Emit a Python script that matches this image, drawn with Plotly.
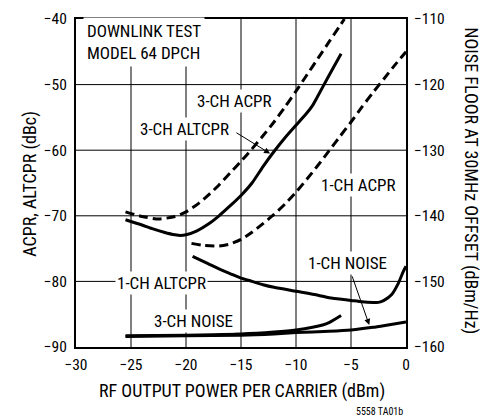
import plotly.graph_objects as go

FONT = "Liberation Sans Narrow, Arial Narrow, Roboto Condensed, Liberation Sans, Arial, sans-serif"

# ---- data ----
acpr3_x = [-25.5, -24, -22.5, -21, -20, -19, -18, -17, -16, -15, -14, -13, -12, -11, -10, -9, -8, -7, -6, -5.6]
acpr3_y = [-69.4, -70.1, -70.5, -70.1, -69.4, -68.3, -66.9, -65.3, -63.5, -61.7, -59.8, -57.8, -55.7, -53.4, -51.0, -48.5, -46.0, -43.5, -41.0, -40.0]

altcpr3_x = [-25.5, -24, -23, -22, -21, -20.5, -20, -19, -18, -17, -16, -15, -14, -13, -12, -11, -10, -9, -8.5, -8, -7, -6, -5.9]
altcpr3_y = [-70.6, -71.4, -72.0, -72.5, -72.9, -73.0, -72.9, -72.3, -71.3, -70.0, -68.5, -66.9, -65.0, -62.5, -60.2, -58.1, -56.2, -54.3, -53.2, -51.7, -48.6, -45.6, -45.3]

acpr1_x = [-19.5, -18.5, -17, -16, -15, -14, -13, -12, -11, -10, -9, -8, -7, -6, -5, -4, -3, -2, -1, 0]
acpr1_y = [-74.2, -74.5, -74.6, -74.3, -73.6, -72.5, -71.2, -69.8, -68.2, -66.4, -64.4, -62.3, -60.1, -57.9, -55.7, -53.4, -51.2, -49.1, -47.0, -45.0]

altcpr1_x = [-19.4, -18, -17, -16, -15, -14, -13, -12, -10, -8, -7, -5, -4, -3, -2.5, -2, -1.3, -0.7, -0.25, 0]
altcpr1_y = [-76.2, -77.3, -78.1, -78.8, -79.5, -80.0, -80.5, -80.9, -81.5, -82.1, -82.5, -82.9, -83.1, -83.2, -83.2, -82.9, -82.0, -80.3, -78.5, -77.7]

noise3_x = [-25.5, -20, -15, -12, -10, -8.5, -7.5, -7, -6.5, -5.9]
noise3_y = [-158.3, -158.2, -158.0, -157.7, -157.4, -157.0, -156.6, -156.3, -155.8, -155.2]

noise1_x = [-25.5, -20, -15, -12, -10, -7, -5, -3, -1.5, 0]
noise1_y = [-158.4, -158.3, -158.2, -158.0, -157.8, -157.6, -157.4, -157.0, -156.6, -156.2]

x_ticks = [-30, -25, -20, -15, -10, -5, 0]
y_left_ticks = [-90, -80, -70, -60, -50, -40]
y_right_ticks = [-160, -150, -140, -130, -120, -110]

def minus(v):
    return ("\u2212" + str(abs(v))) if v < 0 else str(v)

fig = go.Figure()

def add(x, y, dash=None, yaxis="y", width=3):
    fig.add_trace(go.Scatter(
        x=x, y=y, mode="lines", yaxis=yaxis, showlegend=False,
        line=dict(color="black", width=width, dash=dash, shape="spline", smoothing=0.6),
        hoverinfo="skip"))

add(acpr3_x, acpr3_y, dash="9px,5px")
add(altcpr3_x, altcpr3_y)
add(acpr1_x, acpr1_y, dash="9px,5px")
add(altcpr1_x, altcpr1_y)
add(noise3_x, noise3_y, yaxis="y2")
add(noise1_x, noise1_y, yaxis="y2")

# grid lines at the tick positions (drawn beneath the curves)
shapes = []
for v in x_ticks[1:-1]:
    shapes.append(dict(type="line", xref="x", yref="paper", x0=v, x1=v, y0=0, y1=1,
                       line=dict(color="black", width=1), layer="below"))
for v in y_left_ticks[1:-1]:
    shapes.append(dict(type="line", xref="paper", yref="y", x0=0, x1=1, y0=v, y1=v,
                       line=dict(color="black", width=1), layer="below"))

def lab(text, x, y, **kw):
    d = dict(text=text, x=x, y=y, xref="x", yref="y", showarrow=False,
             font=dict(family=FONT, size=17, color="black"), bgcolor="white",
             borderpad=1, xanchor="center", yanchor="middle")
    d.update(kw)
    return d

def paper_text(text, x, y, size, **kw):
    d = dict(text=text, x=x, y=y, xref="paper", yref="paper", showarrow=False,
             font=dict(family=FONT, size=size, color="black"),
             xanchor="center", yanchor="middle")
    d.update(kw)
    return d

annotations = [
    lab("DOWNLINK TEST<br>MODEL 64 DPCH", -29.4, -43.5, xanchor="left", align="left", borderpad=3),
    lab("3-CH ACPR", -15.68, -52.5),
    lab("3-CH ALTCPR", -20.18, -56.77),
    lab("1-CH ACPR", -4.36, -65.23),
    lab("1-CH ALTCPR", -22.21, -80.29),
    lab("3-CH NOISE", -19.29, -86.0),
    lab("1-CH NOISE", -5.36, -77.12),
    # arrows
    dict(text="", x=-12.36, y=-60.5, ax=-15.55, ay=-57.2, axref="x", ayref="y",
         xref="x", yref="y", showarrow=True, arrowhead=2, arrowsize=1.2, arrowwidth=1, arrowcolor="black"),
    dict(text="", x=-3.34, y=-86.65, ax=-4.94, ay=-79.0, axref="x", ayref="y",
         xref="x", yref="y", showarrow=True, arrowhead=2, arrowsize=1.2, arrowwidth=1, arrowcolor="black"),
    # axis titles
    paper_text("RF OUTPUT POWER PER CARRIER (dBm)", 0.503, -0.135, 18),
    paper_text("ACPR, ALTCPR (dBc)", -0.14, 0.497, 18, textangle=-90),
    paper_text("NOISE FLOOR AT 30MHz OFFSET (dBm/Hz)", 1.196, 0.506, 18, textangle=90),
    paper_text("5558 TA01b", 0.997, -0.198, 10, xanchor="right"),
]

axis_common = dict(showline=True, linecolor="black", linewidth=2, mirror=True,
                   showgrid=False, zeroline=False,
                   ticks="", tickfont=dict(family=FONT, size=15.5, color="black"))

fig.update_layout(
    template="none",
    width=481, height=412, autosize=False,
    margin=dict(l=68, r=83, t=11, b=73),
    paper_bgcolor="white", plot_bgcolor="white",
    xaxis=dict(range=[-30, 0], tickmode="array", tickvals=x_ticks,
               ticktext=[minus(v) for v in x_ticks], ticklabelstandoff=2, **axis_common),
    yaxis=dict(range=[-90, -40], tickmode="array", tickvals=y_left_ticks,
               ticktext=[minus(v) for v in y_left_ticks], ticklabelstandoff=4, **axis_common),
    yaxis2=dict(range=[-160, -110], tickmode="array", tickvals=y_right_ticks,
                ticktext=[minus(v) for v in y_right_ticks], overlaying="y", side="right",
                showgrid=False, zeroline=False, showline=False, ticks="", ticklabelstandoff=7,
                tickfont=dict(family=FONT, size=15.5, color="black")),
    shapes=shapes,
    annotations=annotations,
    font=dict(family=FONT, color="black"),
)

fig.write_html("out.html")
